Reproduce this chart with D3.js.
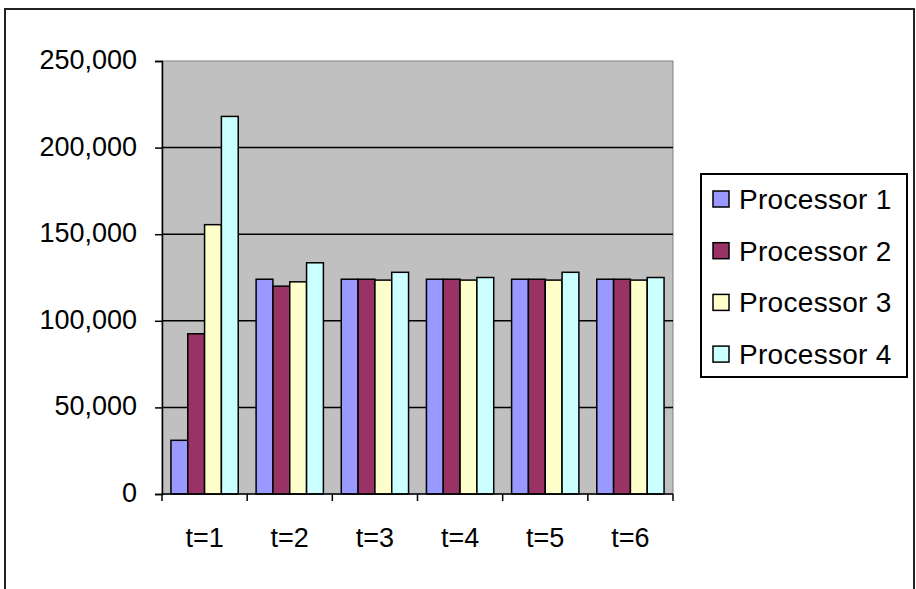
<!DOCTYPE html>
<html>
<head>
<meta charset="utf-8">
<script src="https://cdn.jsdelivr.net/npm/d3@7"></script>
<style>
  body { margin: 0; background: #fff; }
  svg text { font-family: "Liberation Sans", Arial, sans-serif; fill: #000; }
</style>
</head>
<body>
<svg id="chart" width="916" height="589"></svg>
<script>
// data
const steps = ["t=1", "t=2", "t=3", "t=4", "t=5", "t=6"];
const processors = ["Processor 1", "Processor 2", "Processor 3", "Processor 4"];
const proc1 = [31000, 124000, 124000, 124000, 124000, 124000];
const proc2 = [92500, 120000, 124000, 124000, 124000, 124000];
const proc3 = [155500, 122500, 123500, 123500, 123500, 123500];
const proc4 = [218000, 133500, 128000, 125000, 128000, 125000];
const yTicks = [0, 50000, 100000, 150000, 200000, 250000];
const colors = ["#9999ff", "#993366", "#ffffcc", "#ccffff"];

const series = [proc1, proc2, proc3, proc4];
const table = steps.map((s, i) => ({
    step: s,
    values: processors.map((p, j) => ({ proc: p, idx: j, value: series[j][i] }))
}));

// layout
const svg = d3.select("#chart");
const plot = { left: 162, top: 61, right: 673, bottom: 494 };

// outer frame
svg.append("rect")
    .attr("x", 5).attr("y", 9)
    .attr("width", 909).attr("height", 590)
    .attr("fill", "#fff")
    .attr("stroke", "#222")
    .attr("stroke-width", 2);

const x0 = d3.scaleBand()
    .domain(steps)
    .range([plot.left, plot.right])
    .paddingInner(0.21)
    .paddingOuter(0.105);

const x1 = d3.scaleBand()
    .domain(processors)
    .range([0, x0.bandwidth()]);

const y = d3.scaleLinear()
    .domain([0, 250000])
    .range([plot.bottom, plot.top]);

// plot background
svg.append("rect")
    .attr("x", plot.left).attr("y", plot.top)
    .attr("width", plot.right - plot.left)
    .attr("height", plot.bottom - plot.top)
    .attr("fill", "#c0c0c0")
    .attr("stroke", "#808080")
    .attr("stroke-width", 1);

// gridlines
svg.append("g").selectAll("line")
    .data(yTicks.filter(d => d > 0 && d < 250000))
    .join("line")
    .attr("x1", plot.left).attr("x2", plot.right)
    .attr("y1", d => y(d)).attr("y2", d => y(d))
    .attr("stroke", "#000")
    .attr("stroke-width", 1.5);

// bars
const groups = svg.append("g").selectAll("g")
    .data(table)
    .join("g")
    .attr("transform", d => `translate(${x0(d.step)},0)`);

groups.selectAll("rect")
    .data(d => d.values)
    .join("rect")
    .attr("x", d => x1(d.proc))
    .attr("width", x1.bandwidth())
    .attr("y", d => y(d.value))
    .attr("height", d => plot.bottom - y(d.value))
    .attr("fill", d => colors[d.idx])
    .attr("stroke", "#000")
    .attr("stroke-width", 1.5);

// y axis
const yAxis = svg.append("g")
    .attr("transform", `translate(${plot.left},0)`)
    .call(d3.axisLeft(y).tickValues(yTicks).tickFormat(d3.format(",")).tickSize(7).tickPadding(18));
yAxis.selectAll("text").style("font-size", "27px").attr("dy", "0.28em");
yAxis.selectAll("line, path").attr("stroke", "#000").attr("stroke-width", 1.5);

// x axis (ticks at the category borders)
const xAxisG = svg.append("g");
xAxisG.append("line")
    .attr("x1", plot.left).attr("x2", plot.right)
    .attr("y1", plot.bottom).attr("y2", plot.bottom)
    .attr("stroke", "#000").attr("stroke-width", 1.5);
const step = x0.step();
xAxisG.selectAll("line.tick")
    .data(d3.range(steps.length + 1))
    .join("line")
    .attr("class", "tick")
    .attr("x1", i => plot.left + i * step).attr("x2", i => plot.left + i * step)
    .attr("y1", plot.bottom).attr("y2", plot.bottom + 7)
    .attr("stroke", "#000").attr("stroke-width", 1.5);
xAxisG.selectAll("text")
    .data(steps)
    .join("text")
    .attr("x", d => x0(d) + x0.bandwidth() / 2)
    .attr("y", 547)
    .attr("text-anchor", "middle")
    .style("font-size", "27px")
    .text(d => d);

// legend
const legend = svg.append("g");
legend.append("rect")
    .attr("x", 701).attr("y", 174)
    .attr("width", 206).attr("height", 203)
    .attr("fill", "#fff")
    .attr("stroke", "#000")
    .attr("stroke-width", 2);

const items = legend.selectAll("g.item")
    .data(processors)
    .join("g")
    .attr("class", "item")
    .attr("transform", (d, i) => `translate(713,${199 + i * 51.7})`);

items.append("rect")
    .attr("x", 0).attr("y", -8)
    .attr("width", 16).attr("height", 16)
    .attr("fill", (d, i) => colors[i])
    .attr("stroke", "#000")
    .attr("stroke-width", 1.5);

items.append("text")
    .attr("x", 26)
    .attr("y", 10)
    .style("font-size", "28px")
    .style("letter-spacing", "0.3px")
    .text(d => d);
</script>
</body>
</html>
